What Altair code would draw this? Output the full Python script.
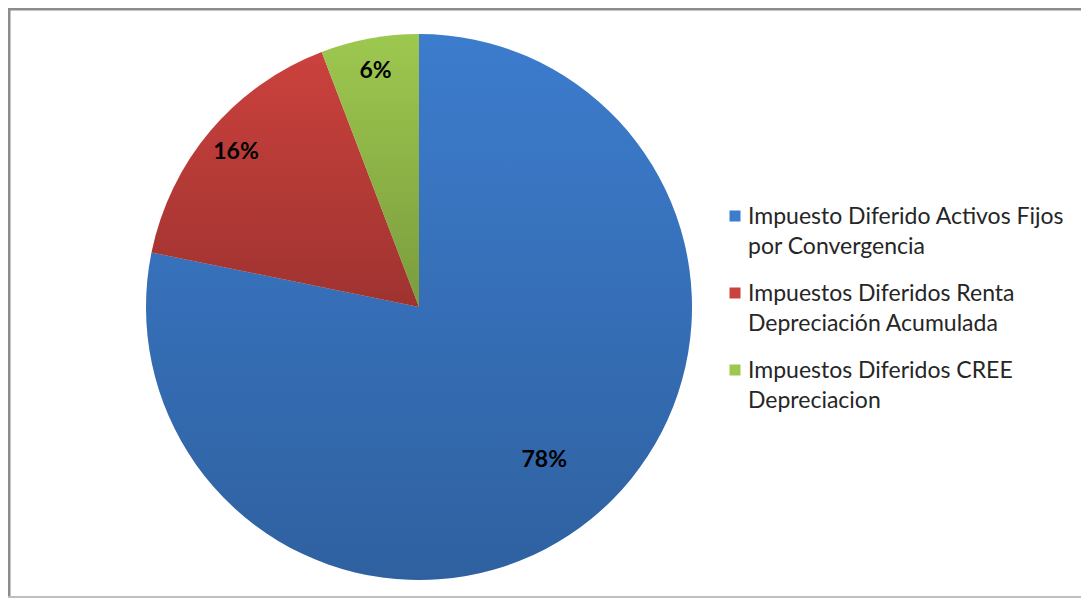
import math
import altair as alt
import pandas as pd

categories = [
    "Impuesto Diferido Activos Fijos\npor Convergencia",
    "Impuestos Diferidos Renta\nDepreciación Acumulada",
    "Impuestos Diferidos CREE\nDepreciacion",
]
values = [78.2, 16.0, 5.8]
colors = ["#3C7CCD", "#CB413D", "#9DC84F"]

df = pd.DataFrame({"cat": categories, "value": values, "idx": list(range(len(values)))})

W, H = 1073, 590
CX, CY, R = 411, 299, 273
FONT = "Lato"

color_scale = alt.Scale(domain=categories, range=colors)
theta = alt.Theta("value:Q", stack=True)
order = alt.Order("idx:Q", sort="ascending")

base = alt.Chart(df).transform_joinaggregate(total="sum(value)").transform_calculate(
    share="datum.value / datum.total"
)

pie = base.mark_arc(radius=R).encode(
    theta=theta,
    order=order,
    color=alt.Color("cat:N", scale=color_scale, legend=None),
    x=alt.value(CX),
    y=alt.value(CY),
)

shade = base.mark_arc(
    radius=R,
    fill=alt.Gradient(
        gradient="linear",
        stops=[
            alt.GradientStop(color="rgba(0,0,0,0)", offset=0),
            alt.GradientStop(color="rgba(0,0,0,0.22)", offset=1),
        ],
        x1=0, x2=0, y1=0, y2=1,
    ),
).encode(theta=theta, order=order, x=alt.value(CX), y=alt.value(CY))

labels = (
    base.transform_window(cum="sum(value)", sort=[alt.SortField("idx", order="ascending")])
    .transform_calculate(
        mid=f"{2 * math.pi} * (datum.cum - datum.value / 2) / datum.total",
        lr="datum.share > 0.5 ? 198 : 240",
    )
    .mark_text(font=FONT, fontSize=23, fontWeight="bold", color="#000000", align="center", baseline="middle")
    .encode(
        theta=alt.Theta("mid:Q", scale=None, stack=None),
        radius=alt.Radius("lr:Q", scale=None),
        text=alt.Text("share:Q", format=".0%"),
        x=alt.value(CX),
        y=alt.value(CY),
    )
)

leg = alt.Chart(df).transform_calculate(ly="208 + 77 * datum.idx", ty="216 + 77 * datum.idx")

squares = leg.mark_square(size=121, opacity=1).encode(
    x=alt.value(727),
    y=alt.Y("ly:Q", scale=None, axis=None),
    color=alt.Color("cat:N", scale=color_scale, legend=None),
)

ltext = leg.mark_text(
    align="left", baseline="alphabetic", lineBreak="\n", lineHeight=30,
    font=FONT, fontSize=23, color="#262626",
).encode(
    x=alt.value(740),
    y=alt.Y("ty:Q", scale=None, axis=None),
    text="cat:N",
)

one = alt.Chart(pd.DataFrame({"a": [0]}))
top = one.mark_rule(color="#8C8C8C", strokeWidth=3).encode(x=alt.value(0), x2=alt.value(W), y=alt.value(1))
left = one.mark_rule(color="#8C8C8C", strokeWidth=3).encode(x=alt.value(1), y=alt.value(0), y2=alt.value(H))
bottom = one.mark_rule(color="#BFBFBF", strokeWidth=2).encode(x=alt.value(0), x2=alt.value(W), y=alt.value(H - 1))

chart = alt.layer(top, left, bottom, pie, shade, labels, squares, ltext).properties(
    width=W, height=H, padding=0, autosize=alt.AutoSizeParams(type="none"), background="white"
).configure_view(stroke=None)

chart.save("out.html", embed_options={"renderer": "svg", "actions": False})
